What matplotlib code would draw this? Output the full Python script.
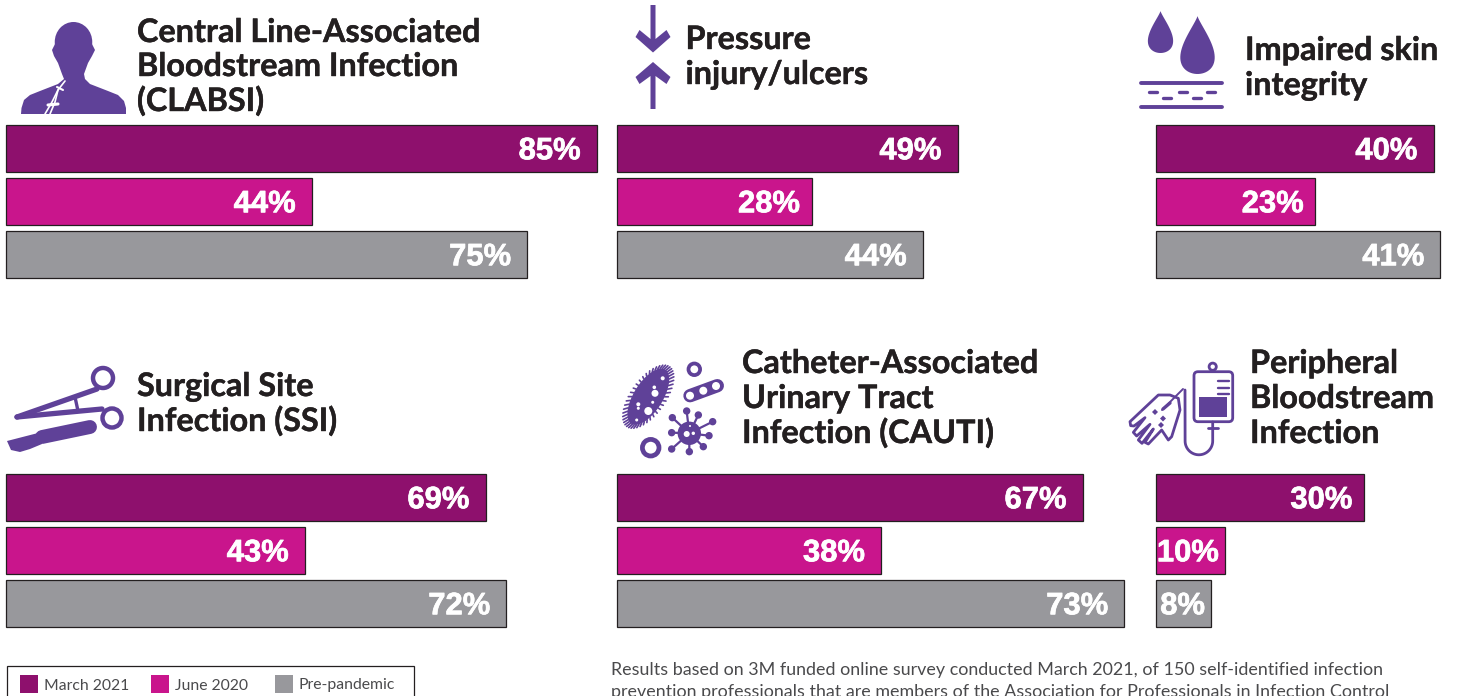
import numpy as np
import matplotlib.pyplot as plt
import matplotlib.patheffects as pe
from matplotlib.patches import Polygon, Circle, Ellipse, Rectangle, FancyBboxPatch

plt.rcParams['font.family'] = ['Lato', 'DejaVu Sans']

## Data
periods = ["March 2021", "June 2020", "Pre-pandemic"]
clabsi = [85, 44, 75]
pressure = [49, 28, 44]
skin = [40, 23, 41]
ssi = [69, 43, 72]
cauti = [67, 38, 73]
peripheral = [30, 10, 8]

colors = ["#8E106D", "#C9158C", "#98989C"]
purple = "#5F4198"
dark = "#231F20"
note_color = "#4A4A4C"

W, H = 1465, 696
fig = plt.figure(figsize=(W / 100, H / 100), dpi=100)

# axe en pixels pour les titres, les icones et la legende
bg = fig.add_axes([0, 0, 1, 1])
bg.set_xlim(0, W)
bg.set_ylim(H, 0)
bg.axis("off")

px_per_pct = 6.95


def panel(values, left, top):
    xmax = max(values) + 1
    ax = fig.add_axes([left / W, 1 - (top + 153) / H, xmax * px_per_pct / W, 153 / H])
    ax.patch.set_alpha(0)
    y = np.arange(len(values))
    ax.barh(y, values, height=0.887, color=colors, edgecolor=dark, linewidth=0.9, clip_on=False)
    ax.set_xlim(0, xmax)
    ax.set_ylim(2.4435, -0.4435)
    ax.axis("off")
    for i, v in zip(y, values):
        pad = 6 if v <= 10 else (11.5 if v <= 30 else 16)
        ax.annotate(f"{v}%", (v, i), xytext=(-pad * 0.72, -2), textcoords="offset points",
                    ha="right", va="center", color="white", fontsize=22.3, fontweight="bold",
                    family="Liberation Sans",
                    path_effects=[pe.withStroke(linewidth=0.5, foreground="white")])


def title(lines, x, baselines):
    for s, y in zip(lines, baselines):
        bg.text(x, y, s, fontsize=23.3, fontweight="bold", color=dark, va="baseline", ha="left",
                path_effects=[pe.withStroke(linewidth=0.3, foreground=dark)])


def stroke(xs, ys, lw=3, color=purple):
    bg.plot(xs, ys, color=color, lw=lw, solid_capstyle="round", solid_joinstyle="round", zorder=3)


def ring(x, y, r, lw=3):
    bg.add_patch(Circle((x, y), r, facecolor="none", edgecolor=purple, lw=lw, zorder=3))


def dot(x, y, r, c=purple):
    bg.add_patch(Circle((x, y), r, fc=c, ec="none", zorder=4 if c == "white" else 3))


def drop(cx, ytip, ybot, w):
    t = np.linspace(0, 2 * np.pi, 80)
    xs = cx + w * np.sin(t) * np.sin(t / 2) ** 1.5
    ys = (ytip + ybot) / 2 - (ybot - ytip) / 2 * np.cos(t)
    bg.add_patch(Polygon(np.c_[xs, ys], closed=True, fc=purple, ec="none"))


## Panneaux
panel(clabsi, 6, 125)
panel(pressure, 617, 125)
panel(skin, 1155.5, 125)
panel(ssi, 6, 474)
panel(cauti, 617, 474)
panel(peripheral, 1155.5, 474)

title(["Central Line-Associated", "Bloodstream Infection", "(CLABSI)"], 137, [42, 76, 111])
title(["Pressure", "injury/ulcers"], 685.5, [49, 84])
title(["Impaired skin", "integrity"], 1245, [60, 95])
title(["Surgical Site", "Infection (SSI)"], 137, [396, 431])
title(["Catheter-Associated", "Urinary Tract", "Infection (CAUTI)"], 742, [373, 408, 443])
title(["Peripheral", "Bloodstream", "Infection"], 1250, [373, 408, 443])

## Icone patient
bg.add_patch(Ellipse((73.5, 42), 37.5, 40, fc=purple, ec="none"))
bg.add_patch(Polygon([(21, 114), (21.5, 108), (24, 100), (30, 95), (40, 91), (58, 84), (64, 79), (62, 74),
                      (58, 63), (54, 56), (52, 50), (55, 44), (92, 44), (95, 50), (92, 56), (88, 63), (84, 74),
                      (85, 79), (90, 84), (108, 91), (118, 95), (124, 101), (126, 108), (126, 114)],
                     closed=True, fc=purple, ec="none"))
stroke([65, 58, 52, 45], [81, 90, 102, 114], 1.2, "white")
stroke([58, 55, 50], [90, 102, 114], 1.2, "white")
stroke([57, 63], [87, 90], 1.5, "white")
stroke([48, 58], [105, 104], 2.2, "white")

## Icone fleches
bg.add_patch(Polygon([(650.5, 5), (655.5, 5), (655.5, 39), (666.5, 30), (670.5, 37), (653, 52.5), (635.5, 37),
                      (639.5, 30), (650.5, 39)], closed=True, fc=purple, ec="none"))
bg.add_patch(Polygon([(650.5, 109), (655.5, 109), (655.5, 76), (666.5, 84), (670.5, 77), (653, 62), (635.5, 77),
                      (639.5, 84), (650.5, 76)], closed=True, fc=purple, ec="none"))

## Icone gouttes
drop(1160.5, 11, 53, 18)
drop(1197.5, 16, 74, 24.5)
stroke([1141, 1222], [83, 83], 2.8)
stroke([1141, 1222], [107, 107], 2.8)
for x0, x1, y in [(1149, 1157, 92), (1179, 1187, 92), (1207, 1215, 92), (1163, 1171, 98), (1193, 1201, 98)]:
    stroke([x0, x1], [y, y], 2.4)

## Icone ciseaux
ring(103, 378, 10, 3.2)
ring(112, 418, 9.5, 3.2)
stroke([17, 97], [417, 389], 3.8)
stroke([17, 102], [417, 409], 3.8)
stroke([75, 78], [397, 411], 2.4)
stroke([42, 90], [437, 427], 10)
bg.add_patch(Polygon([(7, 441), (40, 432.5), (42, 444), (30, 449), (20, 452), (11, 450)], closed=True, fc=purple, ec="none"))

## Icone microbes
bg.add_patch(Ellipse((648.3, 396.7), 29, 64, angle=32, fc=purple, ec="none"))
a = np.radians(32)
for t in np.linspace(0, 2 * np.pi, 46, endpoint=False):
    ex, ey = 14.5 * np.cos(t), 32 * np.sin(t)
    px, py = ex * np.cos(a) - ey * np.sin(a), ex * np.sin(a) + ey * np.cos(a)
    stroke([648.3 + px, 648.3 + px * 1.22], [396.7 + py, 396.7 + py * 1.12], 1.2)
for x, y, r in [(662.7, 378.3, 2), (654.3, 387.3, 1.8), (655, 393.3, 3.5), (648.3, 411, 4), (638.3, 404.3, 2),
                (638.3, 408.3, 1.5), (652.7, 402.3, 1.5), (636.7, 420, 1.5)]:
    dot(x, y, r, "white")
ring(694.3, 369.3, 5.8, 2.7)
ring(650.7, 447.7, 8.3, 3.4)
stroke([690, 717.3], [395.7, 385.7], 9.6)
for x, y in [(690, 395.7), (703.3, 390.7), (716, 386)]:
    dot(x, y, 4, "white")
bg.add_patch(Circle((689.3, 433.3), 11.7, fc=purple, ec="none", zorder=3))
for x, y in [(230, 168), (265, 180), (308, 200), (297, 242), (280, 275), (238, 290), (185, 282), (185, 233), (187, 188)]:
    x, y = 610 + x / 3, 355 + y / 3
    stroke([689.3, x], [433.3, y], 1.6)
    dot(x, y, 3.7)
for x, y, r in [(686.7, 434, 3), (693.3, 433.3, 1.7), (690, 426, 1)]:
    dot(x, y, r, "white")

## Icone perfusion
ring(1212.7, 366.7, 3.6, 2)
bg.add_patch(FancyBboxPatch((1194, 371.7), 38.7, 50, boxstyle="round,pad=0,rounding_size=4",
                            fc="white", ec=purple, lw=2))
bg.add_patch(Rectangle((1199, 396.7), 28.3, 20, fc=purple, ec="none"))
for y in [381, 387.7, 394]:
    stroke([1217.5, 1229], [y, y], 1.7)
t = np.linspace(0, np.pi, 30)
stroke(np.r_[1212.7, 1212.7, 1198.9 + 13.8 * np.cos(t), 1185],
       np.r_[422, 441, 441 + 13.8 * np.sin(t), 390], 2)
stroke([1207.5, 1218], [428, 428], 2)
hand = np.array([(150, 120), (115, 120), (30, 200), (32, 212), (42, 213), (75, 188), (40, 232), (50, 243), (90, 208),
                 (55, 255), (66, 265), (100, 222), (75, 262), (85, 267), (125, 225), (145, 255), (155, 245),
                 (180, 165), (175, 130)], dtype=float)
hand = np.c_[1120 + hand[:, 0] / 3, 355 + hand[:, 1] / 3]
bg.add_patch(Polygon(hand, closed=True, fc="white", ec=purple, lw=2, joinstyle="round", zorder=3))
stroke([1183, 1162], [389, 410], 1.4)
stroke([1170, 1163], [403, 409], 2.4)
for x, y in [(1155, 412), (1163, 418.5), (1161, 425)]:
    bg.add_patch(Polygon([(x - 3, y), (x, y - 3), (x + 3, y), (x, y + 3)], closed=True, fc=purple, ec="none", zorder=4))

## Legende
bg.add_patch(Rectangle((6.5, 665.5), 407, 40, fc="white", ec=dark, lw=0.9))
for x, c, lab in zip([20, 151, 275], colors, periods):
    bg.add_patch(Rectangle((x, 675), 18, 18, fc=c, ec="none"))
    bg.text(x + 24, 685.5, lab, fontsize=11.3, color=note_color, va="center", ha="left")

## Note
bg.text(611, 675.5, "Results based on 3M funded online survey conducted March 2021, of 150 self-identified infection",
        fontsize=12.9, color=note_color, va="baseline")
bg.text(611, 696.5, "prevention professionals that are members of the Association for Professionals in Infection Control",
        fontsize=12.9, color=note_color, va="baseline")

fig.savefig("out.png", dpi=100)
print("Done")
